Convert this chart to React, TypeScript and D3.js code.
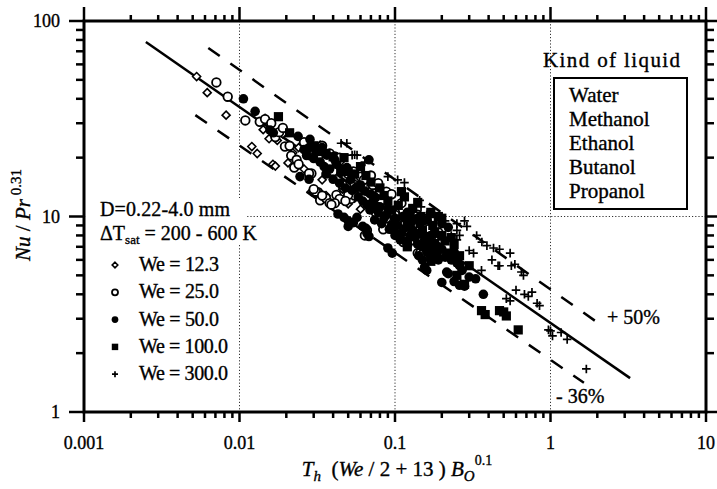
import * as d3 from 'd3'

// x: Th (We/2+13) Bo^0.1 ; y: Nu / Pr^0.31
const xTicks = [0.001, 0.01, 0.1, 1, 10]
const xTickLabels = ['0.001', '0.01', '0.1', '1', '10']
const yTicks = [1, 10, 100]
const yTickLabels = ['1', '10', '100']
const gridX = [0.01, 0.1, 1]
const gridY = [10]

const weLabels = ['We = 12.3', 'We = 25.0', 'We = 50.0', 'We = 100.0', 'We = 300.0']
const liquids = ['Water', 'Methanol', 'Ethanol', 'Butanol', 'Propanol']

// correlation line and its +50% / -36% bounds (end points)
const fitLine = [[0.0025, 78], [3.25, 1.49]]
const upperLine = [[0.0063, 72.8], [1.99, 2.88]]
const lowerLine = [[0.0052, 33.0], [1.64, 1.41]]

const we12 = [
  [0.0053, 52], [0.0062, 43], [0.0082, 33], [0.013, 21], [0.0142, 27.8], [0.0146, 31.8],
  [0.0164, 18.5], [0.017, 18.1], [0.0175, 24.5], [0.019, 26.5], [0.0205, 18.8], [0.022, 21.2],
  [0.024, 22.5], [0.026, 17.5], [0.029, 13.4], [0.031, 13.1], [0.033, 23.2], [0.034, 15.4],
  [0.036, 12.8], [0.039, 16.5], [0.042, 11.8], [0.046, 13.8], [0.05, 11.6], [0.055, 12.4],
  [0.06, 10.9], [0.065, 14.2], [0.07, 11.8], [0.075, 12.6], [0.085, 10.6], [0.11, 9.8],
  [0.012, 22.8], [0.0155, 25], [0.028, 20.5], [0.045, 19.2],
]
const we25 = [
  [0.0071, 48.5], [0.0084, 41], [0.0109, 31], [0.0135, 30.5], [0.0146, 31.5], [0.016, 30],
  [0.017, 25.5], [0.018, 27], [0.019, 28.4], [0.0196, 22.8], [0.021, 23], [0.0215, 20.5],
  [0.0225, 17.8], [0.0233, 19.5], [0.024, 18.5], [0.026, 24], [0.029, 16.6], [0.03, 13.5],
  [0.032, 13.3], [0.033, 12.1], [0.036, 12.4], [0.038, 11.7], [0.04, 17], [0.042, 12.9],
  [0.044, 12.3], [0.046, 14.5], [0.05, 12.5], [0.052, 12.3], [0.055, 12.8], [0.058, 16.6],
  [0.06, 16], [0.063, 15.4], [0.066, 8.5], [0.064, 8.0], [0.072, 14.5], [0.075, 10.5],
  [0.08, 13.5], [0.085, 11], [0.088, 13.4], [0.095, 13], [0.1, 10.5], [0.11, 11.7],
  [0.12, 8.8], [0.125, 7.5], [0.14, 6.5], [0.16, 9.5], [0.17, 7.8], [0.14, 10.2],
  [0.19, 8.3], [0.07, 16.2], [0.034, 23], [0.038, 21], [0.041, 20.3], [0.044, 20],
  [0.028, 16.6], [0.031, 13.4], [0.03, 13.8], [0.034, 12.8], [0.041, 11.7], [0.039, 11.5],
  [0.05, 16.5], [0.054, 17], [0.055, 14.5], [0.05, 12.9], [0.048, 12], [0.078, 14.8],
  [0.088, 9.8], [0.1, 10.2], [0.084, 8.6], [0.115, 8.4], [0.113, 7.4], [0.12, 7.2],
  [0.145, 6.5], [0.15, 6.4], [0.17, 6.5],
]
const we50 = [
  [0.0106, 40], [0.0126, 34.5], [0.0157, 27.7], [0.0165, 26.8], [0.0238, 25.7], [0.028, 22.5],
  [0.0284, 24.8], [0.0245, 16], [0.03, 19.8], [0.035, 18], [0.0365, 20.6], [0.038, 17.5],
  [0.042, 18.5], [0.043, 10.3], [0.047, 9.9], [0.05, 9.5], [0.057, 9.9], [0.062, 8.9],
  [0.065, 8.7], [0.068, 19.5], [0.06, 14.5], [0.07, 13], [0.075, 12.5], [0.078, 10.5],
  [0.085, 9.8], [0.09, 11], [0.095, 9], [0.098, 8.5], [0.1, 8], [0.096, 6.5], [0.11, 8.2],
  [0.12, 7.5], [0.12, 10.5], [0.13, 8.5], [0.14, 7.2], [0.14, 9.8], [0.142, 6.3], [0.15, 7],
  [0.15, 6.0], [0.155, 5.5], [0.16, 6.6], [0.16, 5.3], [0.17, 6.2], [0.18, 7.3], [0.19, 7.0],
  [0.2, 6.8], [0.2, 9.2], [0.2, 4.6], [0.215, 5.2], [0.22, 5.1], [0.22, 8.8], [0.24, 4.65],
  [0.25, 5.8], [0.26, 5.6], [0.26, 4.45], [0.28, 4.4], [0.3, 4.9], [0.33, 4.8], [0.37, 4.0],
  [0.028, 15.5], [0.052, 15.5], [0.045, 16.8],
  [0.026, 22], [0.027, 20.5], [0.031, 21.5], [0.033, 19], [0.034, 22.5], [0.036, 16.5],
  [0.04, 15.5], [0.041, 19.5], [0.044, 14.8], [0.048, 14], [0.049, 17.8], [0.053, 13.6],
  [0.056, 14], [0.058, 12.6], [0.062, 12], [0.064, 13.5], [0.066, 11.5], [0.069, 10.8],
  [0.072, 11.8], [0.074, 9.6], [0.08, 11.2], [0.082, 9.2], [0.088, 10.2], [0.092, 8.6],
  [0.1, 9.8], [0.104, 9], [0.108, 7.6], [0.112, 10], [0.118, 8.8], [0.125, 8], [0.128, 9.4],
  [0.135, 7.8], [0.145, 8.2], [0.155, 7.6], [0.165, 7.2], [0.17, 8], [0.175, 6.8],
  [0.185, 6.4], [0.19, 6], [0.21, 6.2], [0.23, 6.0], [0.24, 6.6], [0.27, 5.3], [0.066, 8.2],
  [0.068, 7.9], [0.09, 6.9], [0.05, 8.9], [0.054, 9.3],
]
const we100 = [
  [0.0178, 32.4], [0.021, 26.8], [0.032, 21.5], [0.04, 20.2], [0.047, 20], [0.045, 17.5],
  [0.055, 16.5], [0.06, 18], [0.07, 15], [0.08, 14], [0.09, 12], [0.075, 11], [0.1, 9.5],
  [0.11, 13.4], [0.115, 12.6], [0.12, 9.6], [0.13, 11], [0.147, 10], [0.15, 8.5], [0.17, 10.5],
  [0.18, 8.2], [0.19, 10], [0.2, 8], [0.22, 6.5], [0.24, 7.2], [0.26, 6.3], [0.3, 5.6],
  [0.25, 5], [0.28, 4.5], [0.36, 3.3], [0.38, 3.15], [0.47, 3.3], [0.5, 3.25], [0.52, 3.1],
  [0.62, 2.63], [0.17, 5.9], [0.12, 7.0],
  [0.03, 23], [0.036, 21], [0.05, 17], [0.058, 14.2], [0.065, 16.2], [0.085, 12.8],
  [0.095, 10.8], [0.105, 11.4], [0.125, 10], [0.14, 11.8], [0.145, 9.2], [0.16, 9.6],
  [0.165, 7.9], [0.175, 9], [0.21, 7.5], [0.23, 7.8], [0.2, 9.8],
]
const we300 = [
  [0.045, 23.7], [0.055, 20.7], [0.057, 20.6], [0.064, 19], [0.09, 16], [0.104, 15.4],
  [0.115, 14.9], [0.144, 12.1], [0.147, 11.2], [0.16, 10.2], [0.17, 9.9], [0.23, 8.0],
  [0.25, 7.6], [0.26, 8.0], [0.25, 9.2], [0.28, 9.5], [0.29, 8.9], [0.3, 6.7], [0.32, 6.5],
  [0.335, 8.0], [0.362, 7.4], [0.39, 7.1], [0.43, 6.9], [0.47, 6.8], [0.55, 6.5], [0.36, 5.3],
  [0.42, 6.0], [0.46, 5.6], [0.47, 5.6], [0.56, 5.6], [0.59, 5.7], [0.65, 5.2], [0.67, 5.0],
  [0.52, 3.8], [0.55, 3.7], [0.6, 4.2], [0.68, 4.0], [0.72, 3.9], [0.76, 4.1], [0.82, 3.6],
  [0.85, 3.5], [0.97, 2.63], [1.0, 2.6], [1.03, 2.45], [1.17, 2.55], [1.28, 2.35], [1.7, 1.66],
  [0.049, 23.7], [0.053, 20.6], [0.2, 9.6], [0.21, 9.5], [0.25, 8.5], [0.19, 7.6], [0.23, 7.7],
]

const font = 'Liberation Serif, Times New Roman, serif'

function Marker({kind, cx, cy, s = 1}: {kind: number, cx: number, cy: number, s?: number}) {
  if (kind === 0) {
    const r = 4 * s
    return <path d={`M${cx},${cy - r}L${cx + r},${cy}L${cx},${cy + r}L${cx - r},${cy}Z`} fill="white" stroke="black" strokeWidth={1.6} />
  }
  if (kind === 1) return <circle cx={cx} cy={cy} r={4.3 * s} fill="white" stroke="black" strokeWidth={1.8} />
  if (kind === 2) return <circle cx={cx} cy={cy} r={4.8 * s} fill="black" />
  if (kind === 3) {
    const h = 4.6 * s
    return <rect x={cx - h} y={cy - h} width={2 * h} height={2 * h} fill="black" />
  }
  const h = 4.3 * s
  return <path d={`M${cx - h},${cy}H${cx + h}M${cx},${cy - h}V${cy + h}`} stroke="black" strokeWidth={1.7} />
}

export default function App() {
  const x = d3.scaleLog().domain([0.001, 10]).range([84, 706])
  const y = d3.scaleLog().domain([1, 100]).range([412, 21])
  const [x0, x1] = x.range()
  const [y0, y1] = y.range()

  const minorX: number[] = []
  for (const d of xTicks.slice(0, -1)) for (let k = 2; k < 10; k++) minorX.push(d * k)
  const minorY: number[] = []
  for (const d of yTicks.slice(0, -1)) for (let k = 2; k < 10; k++) minorY.push(d * k)

  const line = d3.line<number[]>().x(d => x(d[0])).y(d => y(d[1]))
  const series = [we12, we25, we50, we100, we300]
  const ink = {stroke: 'black', strokeWidth: 0.35}

  return (
    <svg width={717} height={489} style={{position: 'absolute', left: 0, top: 0, background: 'white'}} fontFamily={font}>
      {/* dotted grid */}
      {gridX.map(v => <line key={'gx' + v} x1={x(v)} x2={x(v)} y1={y1} y2={y0} stroke="#333" strokeWidth={1} strokeDasharray="1.2,2" />)}
      {gridY.map(v => <line key={'gy' + v} x1={x0} x2={x1} y1={y(v)} y2={y(v)} stroke="#333" strokeWidth={1} strokeDasharray="1.2,2" />)}
      <rect x={86} y={198} width={161} height={47} fill="white" />

      {/* correlation lines */}
      <path d={line(fitLine) as string} stroke="black" strokeWidth={2.5} fill="none" />
      <path d={line(upperLine) as string} stroke="black" strokeWidth={2.5} fill="none" strokeDasharray="14,13" />
      <path d={line(lowerLine) as string} stroke="black" strokeWidth={2.5} fill="none" strokeDasharray="14,13" />

      {/* data */}
      {series.map((pts, k) => (
        <g key={k}>
          {pts.map((d, i) => <Marker key={i} kind={k} cx={x(d[0])} cy={y(d[1])} />)}
        </g>
      ))}

      {/* frame */}
      <rect x={x0} y={y1} width={x1 - x0} height={y0 - y1} fill="none" stroke="black" strokeWidth={3} />
      {minorX.map(v => (
        <g key={'mx' + v}>
          <line x1={x(v)} x2={x(v)} y1={y0} y2={y0 + 6} stroke="black" strokeWidth={2.5} />
          <line x1={x(v)} x2={x(v)} y1={y1} y2={y1 - 6} stroke="black" strokeWidth={2.5} />
        </g>
      ))}
      {xTicks.map(v => (
        <g key={'tx' + v}>
          <line x1={x(v)} x2={x(v)} y1={y0} y2={y0 + 10} stroke="black" strokeWidth={2.5} />
          <line x1={x(v)} x2={x(v)} y1={y1} y2={y1 - 14} stroke="black" strokeWidth={2.5} />
        </g>
      ))}
      {minorY.map(v => (
        <g key={'my' + v}>
          <line x1={x0} x2={x0 - 8} y1={y(v)} y2={y(v)} stroke="black" strokeWidth={2.5} />
          <line x1={x1} x2={x1 + 8} y1={y(v)} y2={y(v)} stroke="black" strokeWidth={2.5} />
        </g>
      ))}
      {yTicks.map(v => (
        <g key={'ty' + v}>
          <line x1={x0} x2={x0 - 15} y1={y(v)} y2={y(v)} stroke="black" strokeWidth={2.5} />
          <line x1={x1} x2={x1 + 12} y1={y(v)} y2={y(v)} stroke="black" strokeWidth={2.5} />
        </g>
      ))}

      {/* tick labels */}
      {xTicks.map((v, i) => (
        <text key={'lx' + v} x={x(v)} y={449} textAnchor="middle" fontSize={18} {...ink}>{xTickLabels[i]}</text>
      ))}
      {yTicks.map((v, i) => (
        <text key={'ly' + v} x={60} y={y(v) + 6} textAnchor="end" fontSize={18} {...ink}>{yTickLabels[i]}</text>
      ))}

      {/* axis titles */}
      <text x={397} y={476} textAnchor="middle" fontSize={21} style={{whiteSpace: 'pre'}} {...ink}>
        <tspan fontStyle="italic">T</tspan>
        <tspan fontStyle="italic" fontSize={15} dy={5}>h</tspan>
        <tspan dy={-5}>{'  ('}</tspan>
        <tspan fontStyle="italic">We</tspan>
        <tspan>{' / 2 + 13 ) '}</tspan>
        <tspan fontStyle="italic">B</tspan>
        <tspan fontStyle="italic" fontSize={15} dy={5}>O</tspan>
        <tspan fontSize={14} dy={-16}>0.1</tspan>
      </text>
      <text transform="translate(30,215) rotate(-90)" textAnchor="middle" fontSize={21} style={{whiteSpace: 'pre'}} {...ink}>
        <tspan fontStyle="italic">Nu</tspan>
        <tspan>{' / '}</tspan>
        <tspan fontStyle="italic">Pr</tspan>
        <tspan fontSize={15} dy={-9}>{' 0.31'}</tspan>
      </text>

      {/* bound labels */}
      <text x={607} y={324} fontSize={20} {...ink}>+ 50%</text>
      <text x={556} y={403} fontSize={20} {...ink}>- 36%</text>

      {/* left legend */}
      <text x={100} y={216} fontSize={20} textLength={130} lengthAdjust="spacing" {...ink}>D=0.22-4.0 mm</text>
      <text x={100} y={240} fontSize={20} {...ink}>
        <tspan>ΔT</tspan>
        <tspan fontSize={13} dy={4}>sat</tspan>
        <tspan dy={-4}>{' = 200 - 600 K'}</tspan>
      </text>
      {weLabels.map((t, i) => (
        <g key={t}>
          <Marker kind={i} cx={115} cy={265 + i * 27.3} s={0.7} />
          <text x={139} y={271 + i * 27.3} fontSize={20} textLength={i < 3 ? 80 : 89} lengthAdjust="spacing" {...ink}>{t}</text>
        </g>
      ))}

      {/* liquid legend */}
      <text x={543} y={67} fontSize={21} textLength={137} lengthAdjust="spacing" {...ink}>Kind of liquid</text>
      <rect x={554} y={78} width={133} height={131} fill="none" stroke="black" strokeWidth={2} />
      {liquids.map((t, i) => (
        <text key={t} x={569} y={102 + i * 24} fontSize={21} {...ink}>{t}</text>
      ))}
    </svg>
  )
}
